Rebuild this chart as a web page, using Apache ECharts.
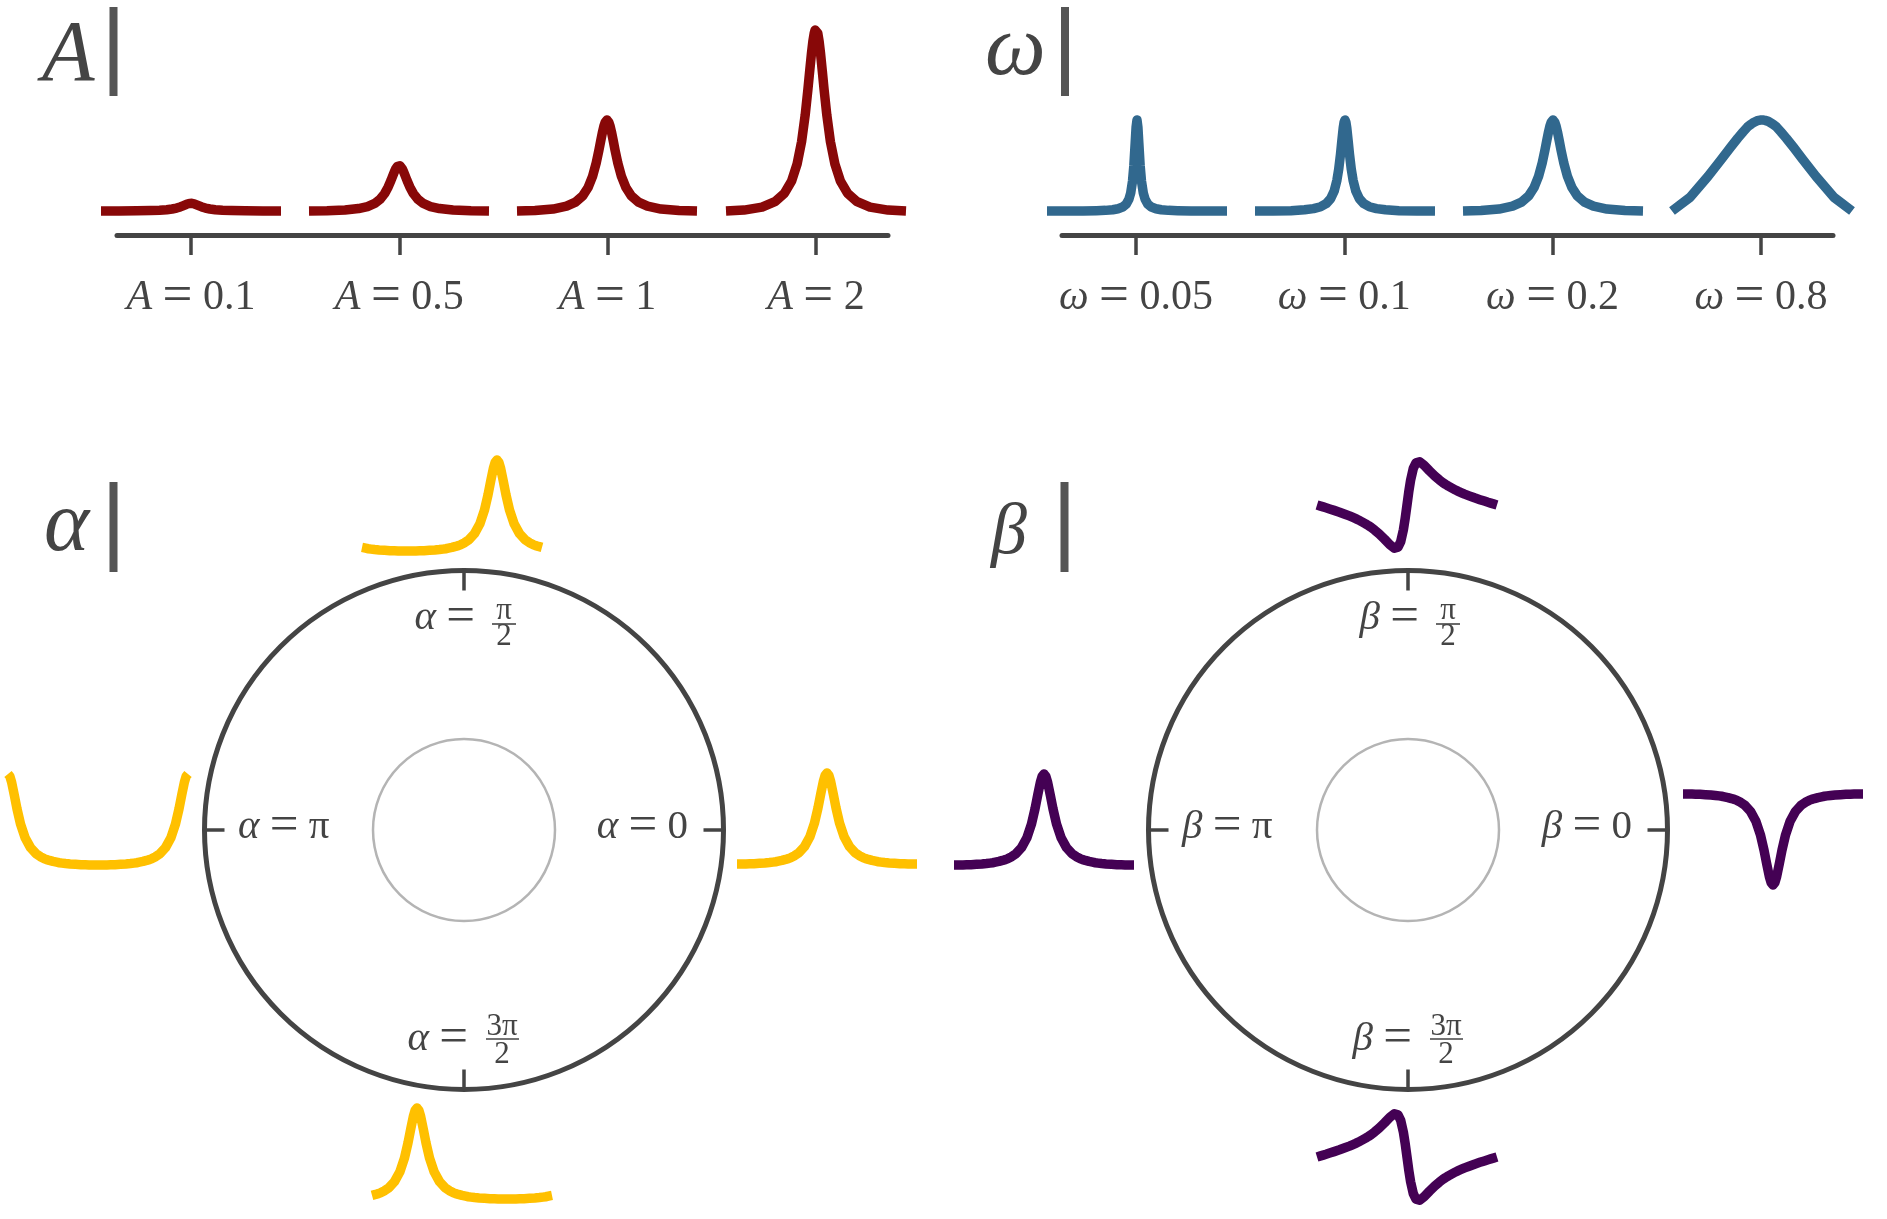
<!DOCTYPE html>
<html><head><meta charset="utf-8">
<script src="https://cdn.jsdelivr.net/npm/echarts@6/dist/echarts.min.js"></script>
<style>html,body{margin:0;padding:0;background:#fff}#c{width:1887px;height:1219px}</style>
</head><body><div id="c"></div>
<script>
// ---------- data ----------
const U_TOP = [-1,-0.8,-0.6,-0.45,-0.35,-0.27,-0.21,-0.16,-0.12,-0.09,-0.07,-0.05,-0.035,-0.02,-0.01,0,0.01,0.02,0.035,0.05,0.07,0.09,0.12,0.16,0.21,0.27,0.35,0.45,0.6,0.8,1];
const A_TICKS = ['0.1','0.5','1','2'];
const W_TICKS = ['0.05','0.1','0.2','0.8'];
const A_01 = [0,0,0.002,0.005,0.008,0.014,0.022,0.032,0.045,0.057,0.065,0.074,0.079,0.083,0.084,0.085,0.084,0.083,0.079,0.074,0.065,0.057,0.045,0.032,0.022,0.014,0.008,0.005,0.002,0,0];
const A_05 = [0,0.003,0.011,0.027,0.049,0.083,0.129,0.191,0.264,0.334,0.385,0.434,0.466,0.488,0.497,0.5,0.497,0.488,0.466,0.434,0.385,0.334,0.264,0.191,0.129,0.083,0.049,0.027,0.011,0.003,0];
const A_1 = [0,0.005,0.021,0.053,0.098,0.166,0.258,0.381,0.528,0.667,0.769,0.868,0.931,0.976,0.994,1,0.994,0.976,0.931,0.868,0.769,0.667,0.528,0.381,0.258,0.166,0.098,0.053,0.021,0.005,0];
const A_2 = [0,0.01,0.042,0.106,0.196,0.332,0.516,0.762,1.056,1.334,1.538,1.736,1.862,1.952,1.988,2,1.988,1.952,1.862,1.736,1.538,1.334,1.056,0.762,0.516,0.332,0.196,0.106,0.042,0.01,0];
const W_005 = [0,0,0.001,0.004,0.007,0.014,0.025,0.043,0.076,0.129,0.198,0.327,0.499,0.753,0.922,1,0.922,0.753,0.499,0.327,0.198,0.129,0.076,0.043,0.025,0.014,0.007,0.004,0.001,0,0];
const W_01 = [0,0.001,0.004,0.013,0.026,0.047,0.08,0.135,0.22,0.337,0.458,0.624,0.772,0.911,0.975,1,0.975,0.911,0.772,0.624,0.458,0.337,0.22,0.135,0.08,0.047,0.026,0.013,0.004,0.001,0];
const W_02 = [0,0.005,0.021,0.053,0.098,0.166,0.258,0.381,0.528,0.667,0.769,0.868,0.931,0.976,0.994,1,0.994,0.976,0.931,0.868,0.769,0.667,0.528,0.381,0.258,0.166,0.098,0.053,0.021,0.005,0];
const W_08 = [0,0.15,0.38,0.57,0.7,0.8,0.87,0.925,0.955,0.975,0.985,0.992,0.996,0.999,1,1,1,0.999,0.996,0.992,0.985,0.975,0.955,0.925,0.87,0.8,0.7,0.57,0.38,0.15,0];

const U_CIRC = [-1,-0.98,-0.96,-0.93,-0.9,-0.86,-0.81,-0.75,-0.69,-0.64,-0.6,-0.57,-0.54,-0.52,-0.5,-0.48,-0.46,-0.43,-0.4,-0.36,-0.31,-0.25,-0.19,-0.14,-0.1,-0.07,-0.04,-0.02,0,0.02,0.04,0.07,0.1,0.14,0.19,0.25,0.31,0.36,0.4,0.43,0.46,0.48,0.5,0.52,0.54,0.57,0.6,0.64,0.69,0.75,0.81,0.86,0.9,0.93,0.96,0.98,1];
const ALPHA_0 = [0,0,0,0.001,0.001,0.002,0.004,0.007,0.011,0.016,0.021,0.025,0.031,0.034,0.039,0.044,0.05,0.059,0.071,0.091,0.126,0.191,0.299,0.447,0.617,0.768,0.911,0.976,1,0.976,0.911,0.768,0.617,0.447,0.299,0.191,0.126,0.091,0.071,0.059,0.05,0.044,0.039,0.034,0.031,0.025,0.021,0.016,0.011,0.007,0.004,0.002,0.001,0.001,0,0,0];
const ALPHA_PI2 = [0.039,0.034,0.031,0.025,0.021,0.016,0.011,0.007,0.004,0.002,0.001,0.001,0,0,0,0,0,0.001,0.001,0.002,0.004,0.007,0.011,0.016,0.021,0.025,0.031,0.034,0.039,0.044,0.05,0.059,0.071,0.091,0.126,0.191,0.299,0.447,0.617,0.768,0.911,0.976,1,0.976,0.911,0.768,0.617,0.447,0.299,0.191,0.126,0.091,0.071,0.059,0.05,0.044,0.039];
const ALPHA_PI = [1,0.976,0.911,0.768,0.617,0.447,0.299,0.191,0.126,0.091,0.071,0.059,0.05,0.044,0.039,0.034,0.031,0.025,0.021,0.016,0.011,0.007,0.004,0.002,0.001,0.001,0,0,0,0,0,0.001,0.001,0.002,0.004,0.007,0.011,0.016,0.021,0.025,0.031,0.034,0.039,0.044,0.05,0.059,0.071,0.091,0.126,0.191,0.299,0.447,0.617,0.768,0.911,0.976,1];
const ALPHA_3PI2 = [0.039,0.044,0.05,0.059,0.071,0.091,0.126,0.191,0.299,0.447,0.617,0.768,0.911,0.976,1,0.976,0.911,0.768,0.617,0.447,0.299,0.191,0.126,0.091,0.071,0.059,0.05,0.044,0.039,0.034,0.031,0.025,0.021,0.016,0.011,0.007,0.004,0.002,0.001,0.001,0,0,0,0,0,0.001,0.001,0.002,0.004,0.007,0.011,0.016,0.021,0.025,0.031,0.034,0.039];
const BETA_0 = [0,0,0,-0.001,-0.001,-0.002,-0.004,-0.007,-0.011,-0.016,-0.021,-0.025,-0.031,-0.034,-0.039,-0.044,-0.05,-0.059,-0.071,-0.091,-0.126,-0.191,-0.299,-0.447,-0.617,-0.768,-0.911,-0.976,-1,-0.976,-0.911,-0.768,-0.617,-0.447,-0.299,-0.191,-0.126,-0.091,-0.071,-0.059,-0.05,-0.044,-0.039,-0.034,-0.031,-0.025,-0.021,-0.016,-0.011,-0.007,-0.004,-0.002,-0.001,-0.001,0,0,0];
const BETA_PI2 = [0,-0.006,-0.012,-0.021,-0.03,-0.043,-0.059,-0.079,-0.101,-0.12,-0.137,-0.15,-0.164,-0.174,-0.185,-0.195,-0.207,-0.225,-0.245,-0.275,-0.317,-0.375,-0.437,-0.475,-0.464,-0.403,-0.272,-0.146,0,0.146,0.272,0.403,0.464,0.475,0.437,0.375,0.317,0.275,0.245,0.225,0.207,0.195,0.185,0.174,0.164,0.15,0.137,0.12,0.101,0.079,0.059,0.043,0.03,0.021,0.012,0.006,0];
const BETA_PI = [0,0,0,0.001,0.001,0.002,0.004,0.007,0.011,0.016,0.021,0.025,0.031,0.034,0.039,0.044,0.05,0.059,0.071,0.091,0.126,0.191,0.299,0.447,0.617,0.768,0.911,0.976,1,0.976,0.911,0.768,0.617,0.447,0.299,0.191,0.126,0.091,0.071,0.059,0.05,0.044,0.039,0.034,0.031,0.025,0.021,0.016,0.011,0.007,0.004,0.002,0.001,0.001,0,0,0];
const BETA_3PI2 = [0,0.006,0.012,0.021,0.03,0.043,0.059,0.079,0.101,0.12,0.137,0.15,0.164,0.174,0.185,0.195,0.207,0.225,0.245,0.275,0.317,0.375,0.437,0.475,0.464,0.403,0.272,0.146,0,-0.146,-0.272,-0.403,-0.464,-0.475,-0.437,-0.375,-0.317,-0.275,-0.245,-0.225,-0.207,-0.195,-0.185,-0.174,-0.164,-0.15,-0.137,-0.12,-0.101,-0.079,-0.059,-0.043,-0.03,-0.021,-0.012,-0.006,0];

const TITLES = ['A', 'ω', 'α', 'β'];
const RING_LABELS = { right: '0', left: 'π', top: ['π', '2'], bottom: ['3π', '2'] };

// ---------- styling / layout ----------
const FONT = 'Liberation Serif';
const INK = '#444444';
const COL_A = '#880808', COL_W = '#31688e', COL_AL = '#ffc000', COL_BE = '#440154';
const UNIT = 91; // px per unit of amplitude
const LW = 9.5;
const EQ = ' {e|=} ';
const richFor = (size) => ({
  i: { fontStyle: 'italic', fontFamily: FONT, fontSize: size, color: INK, fill: INK },
  e: { fontFamily: FONT, fontSize: Math.round(size * 1.25), color: INK, fill: INK }
});

const grids = [], xAxes = [], yAxes = [], series = [];
function addCurve(left, top, height, ymin, ymax, xs, ys, color) {
  const gi = grids.length;
  grids.push({ left: left, top: top, width: 180, height: height });
  xAxes.push({ gridIndex: gi, type: 'value', min: -1, max: 1, show: false });
  yAxes.push({ gridIndex: gi, type: 'value', min: ymin, max: ymax, show: false });
  series.push({
    type: 'line', xAxisIndex: gi, yAxisIndex: gi,
    data: xs.map((x, i) => [x, ys[i]]),
    showSymbol: false, symbol: 'none', clip: false, silent: true,
    smooth: false,
    lineStyle: { color: color, width: LW, cap: 'butt', join: 'round' }
  });
}
function addAxis(left, labels, sym) {
  const gi = grids.length;
  grids.push({ left: left, top: 200, width: 771, height: 35 });
  xAxes.push({
    gridIndex: gi, type: 'value', min: -0.355, max: 3.346, position: 'bottom',
    axisLine: { show: true, onZero: false, lineStyle: { color: INK, width: 5 } },
    axisTick: { show: true, customValues: [0, 1, 2, 3], length: 20, lineStyle: { color: INK, width: 3.5 } },
    axisLabel: {
      show: true, customValues: [0, 1, 2, 3], margin: 36,
      formatter: v => '{i|' + sym + '}' + EQ + labels[Math.round(v)],
      color: INK, fontFamily: FONT, fontSize: 42,
      rich: richFor(42)
    },
    splitLine: { show: false }
  });
  yAxes.push({ gridIndex: gi, type: 'value', min: 0, max: 1, show: false });
}

// top panels
const A_SERIES = [A_01, A_05, A_1, A_2];
const W_SERIES = [W_005, W_01, W_02, W_08];
const A_LEFTS = [101, 309, 517, 726];
const W_LEFTS = [1047, 1255, 1463, 1672];
A_SERIES.forEach((ys, i) => addCurve(A_LEFTS[i], 29, 2 * UNIT, 0, 2, U_TOP, ys, COL_A));
W_SERIES.forEach((ys, i) => addCurve(W_LEFTS[i], 29, 2 * UNIT, 0, 2, U_TOP, ys, COL_W));
addAxis(117, A_TICKS, 'A');
addAxis(1062, W_TICKS, 'ω');

// ring panels: left, baseline y (value 0), value range shown
const ringCurve = (left, y0, ys, col, ymin, ymax) =>
  addCurve(left, y0 - ymax * UNIT, (ymax - ymin) * UNIT, ymin, ymax, U_CIRC, ys, col);
ringCurve(737, 864, ALPHA_0, COL_AL, -0.1, 1.1);
ringCurve(362, 551, ALPHA_PI2, COL_AL, -0.1, 1.1);
ringCurve(8, 865, ALPHA_PI, COL_AL, -0.1, 1.1);
ringCurve(372, 1199, ALPHA_3PI2, COL_AL, -0.1, 1.1);
ringCurve(1683, 794, BETA_0, COL_BE, -1.1, 0.1);
ringCurve(1317, 505, BETA_PI2, COL_BE, -0.55, 0.55);
ringCurve(954, 865, BETA_PI, COL_BE, -0.1, 1.1);
ringCurve(1317, 1157, BETA_3PI2, COL_BE, -0.55, 0.55);

// polar rings
const RINGS = [[464, 830], [1408, 830]];
const polar = [], angleAxis = [], radiusAxis = [];
RINGS.forEach(c => {
  [[259.5, true], [91, false]].forEach(([r, outer]) => {
    const pi = polar.length;
    polar.push({ center: c, radius: r });
    radiusAxis.push({ polarIndex: pi, type: 'value', min: 0, max: 1, show: false });
    angleAxis.push({
      polarIndex: pi, type: 'value', min: 0, max: 360, interval: 90, startAngle: 0, clockwise: false,
      axisLine: { show: true, lineStyle: { color: outer ? INK : '#b4b4b4', width: outer ? 5 : 2.5 } },
      axisTick: { show: outer, inside: true, length: 20, lineStyle: { color: INK, width: 3.5 } },
      axisLabel: { show: false }, splitLine: { show: false }, splitArea: { show: false }
    });
  });
});

// text graphics
const graphic = [];
function text(x, y, str, size, align, italic, rich) {
  const st = { text: str, fontFamily: FONT, fontSize: size, fill: INK, align: align, verticalAlign: 'middle' };
  if (italic) st.fontStyle = 'italic';
  if (rich) st.rich = richFor(size);
  graphic.push({ type: 'text', x: x, y: y, silent: true, style: st });
}
function bar(x1, y1, x2, y2, w, col) {
  graphic.push({ type: 'line', silent: true, shape: { x1, y1, x2, y2 }, style: { stroke: col, lineWidth: w } });
}
// titles
text(42, 57, TITLES[0], 86, 'left', true);
text(985, 51, TITLES[1], 86, 'left', true);
text(44, 527, TITLES[2], 86, 'left', true);
text(991, 534, TITLES[3], 72, 'left', true);
bar(113.5, 7, 113.5, 96, 8, '#555555');
bar(1065, 7, 1065, 96, 8, '#555555');
bar(113.5, 482, 113.5, 572, 8, '#555555');
bar(1064.5, 482, 1064.5, 572, 8, '#555555');

function ringLabels(cx, cy, sym) {
  const LS = 41, FS = 31;
  text(cx + 224, cy - 3, '{i|' + sym + '}' + EQ + RING_LABELS.right, LS, 'right', false, true);
  text(cx - 226, cy - 3, '{i|' + sym + '}' + EQ + RING_LABELS.left, LS, 'left', false, true);
  // top
  text(cx + 11, cy - 212, '{i|' + sym + '} {e|=}', LS, 'right', false, true);
  text(cx + 40, cy - 219, RING_LABELS.top[0], FS, 'center', false);
  bar(cx + 28, cy - 206, cx + 52, cy - 206, 1.6, INK);
  text(cx + 40, cy - 193, RING_LABELS.top[1], FS, 'center', false);
  // bottom
  text(cx + 4, cy + 209, '{i|' + sym + '} {e|=}', LS, 'right', false, true);
  text(cx + 38, cy + 197, RING_LABELS.bottom[0], FS, 'center', false);
  bar(cx + 22, cy + 209, cx + 55, cy + 209, 1.6, INK);
  text(cx + 38, cy + 225, RING_LABELS.bottom[1], FS, 'center', false);
}
ringLabels(RINGS[0][0], RINGS[0][1], TITLES[2]);
ringLabels(RINGS[1][0], RINGS[1][1], TITLES[3]);

const chart = echarts.init(document.getElementById('c'), null, { renderer: 'canvas' });
chart.setOption({
  animation: false,
  backgroundColor: '#ffffff',
  grid: grids, xAxis: xAxes, yAxis: yAxes,
  polar: polar, angleAxis: angleAxis, radiusAxis: radiusAxis,
  series: series,
  graphic: graphic
});
</script></body></html>
